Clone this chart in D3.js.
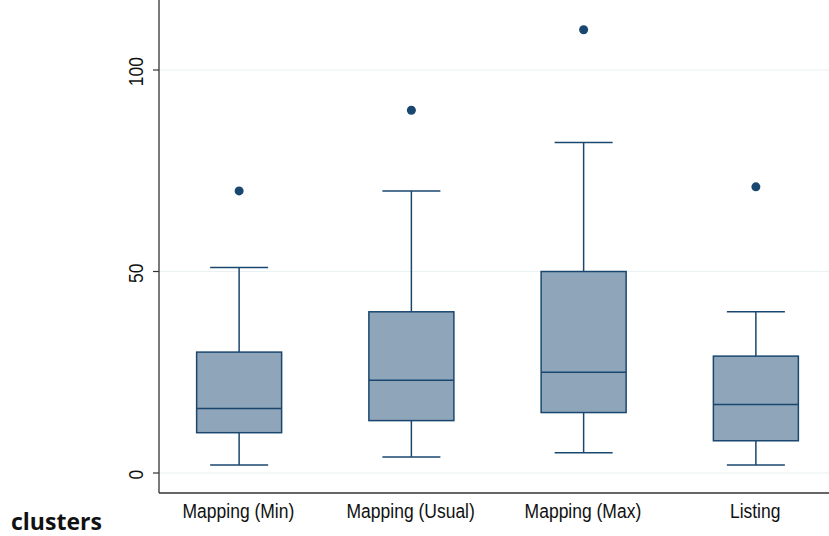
<!DOCTYPE html>
<html>
<head>
<meta charset="utf-8">
<script src="https://cdn.jsdelivr.net/npm/d3@7"></script>
<style>
  body { margin: 0; background: #fff; }
  text { font-family: "Liberation Sans", Arial, sans-serif; }
</style>
</head>
<body>
<svg width="829" height="536"></svg>
<script>
// box stats
var categories = ["Mapping (Min)", "Mapping (Usual)", "Mapping (Max)", "Listing"];
var whiskLow  = [2, 4, 5, 2];
var q1        = [10, 13, 15, 8];
var median    = [16, 23, 25, 17];
var q3        = [30, 40, 50, 29];
var whiskHigh = [51, 70, 82, 40];
var outliers  = [70, 90, 110, 71];
var yTicks    = [0, 50, 100];

var svg = d3.select("svg"),
    left = 159, right = 829, top = 10, bottom = 493;

var x = d3.scalePoint().domain(categories).range([153, 842]).padding(0.5);
var y = d3.scaleLinear().domain([0, 100]).range([473, 70]);

var navy = "#1a476f", fill = "#8fa5b9";

// gridlines
svg.append("g").selectAll("line")
  .data(yTicks)
  .enter().append("line")
    .attr("x1", left).attr("x2", right)
    .attr("y1", d => y(d)).attr("y2", d => y(d))
    .attr("stroke", "#eaf2f3").attr("stroke-width", 1.2);

var boxes = categories.map(function(c, i) {
  return {cat: c, lo: whiskLow[i], q1: q1[i], med: median[i], q3: q3[i], hi: whiskHigh[i], out: outliers[i]};
});

var bw = 85, cw = 58;
var g = svg.append("g").selectAll("g")
  .data(boxes)
  .enter().append("g")
    .attr("transform", d => "translate(" + x(d.cat) + ",0)");

g.append("line")
  .attr("x1", 0).attr("x2", 0)
  .attr("y1", d => y(d.hi)).attr("y2", d => y(d.q3))
  .attr("stroke", navy).attr("stroke-width", 1.5);
g.append("line")
  .attr("x1", 0).attr("x2", 0)
  .attr("y1", d => y(d.q1)).attr("y2", d => y(d.lo))
  .attr("stroke", navy).attr("stroke-width", 1.5);
g.append("line")
  .attr("x1", -cw / 2).attr("x2", cw / 2)
  .attr("y1", d => y(d.hi)).attr("y2", d => y(d.hi))
  .attr("stroke", navy).attr("stroke-width", 1.5);
g.append("line")
  .attr("x1", -cw / 2).attr("x2", cw / 2)
  .attr("y1", d => y(d.lo)).attr("y2", d => y(d.lo))
  .attr("stroke", navy).attr("stroke-width", 1.5);
g.append("rect")
  .attr("x", -bw / 2).attr("width", bw)
  .attr("y", d => y(d.q3)).attr("height", d => y(d.q1) - y(d.q3))
  .attr("fill", fill).attr("stroke", navy).attr("stroke-width", 1.5);
g.append("line")
  .attr("x1", -bw / 2).attr("x2", bw / 2)
  .attr("y1", d => y(d.med)).attr("y2", d => y(d.med))
  .attr("stroke", navy).attr("stroke-width", 1.5);
g.append("circle")
  .attr("cx", 0).attr("cy", d => y(d.out)).attr("r", 4.5)
  .attr("fill", navy);

// axes
svg.append("line")
  .attr("x1", left).attr("x2", left).attr("y1", top).attr("y2", bottom)
  .attr("stroke", "#333").attr("stroke-width", 1.3);
svg.append("line")
  .attr("x1", left).attr("x2", right).attr("y1", bottom).attr("y2", bottom)
  .attr("stroke", "#333").attr("stroke-width", 1.3);

var yt = svg.append("g").selectAll("g")
  .data(yTicks)
  .enter().append("g");
yt.append("line")
  .attr("x1", left - 6).attr("x2", left)
  .attr("y1", d => y(d)).attr("y2", d => y(d))
  .attr("stroke", "#333").attr("stroke-width", 1.2);
var ylab = yt.append("text")
  .attr("transform", d => "translate(143," + (y(d) + 1) + ") rotate(-90) scale(1,1.2)")
  .attr("text-anchor", "middle")
  .style("font-size", "17.5px")
  .attr("fill", "#111");
ylab.append("tspan").text(d => d);
ylab.append("tspan").style("font-size", "5px").attr("fill", "#888").text(".");

var xlab = svg.append("g").selectAll("text")
  .data(categories)
  .enter().append("text")
    .attr("transform", d => "translate(" + x(d) + ",518) scale(1,1.2)")
    .attr("text-anchor", "middle")
    .style("font-size", "17.5px")
    .attr("fill", "#111");
xlab.append("tspan").text(d => d);
xlab.append("tspan").style("font-size", "5px").attr("fill", "#888").text(".");

svg.append("text")
  .attr("x", 11).attr("y", 530)
  .style("font-family", "'Open Sans', sans-serif")
  .style("font-weight", "bold")
  .style("font-size", "23px")
  .attr("fill", "#111")
  .text("clusters");
</script>
</body>
</html>
